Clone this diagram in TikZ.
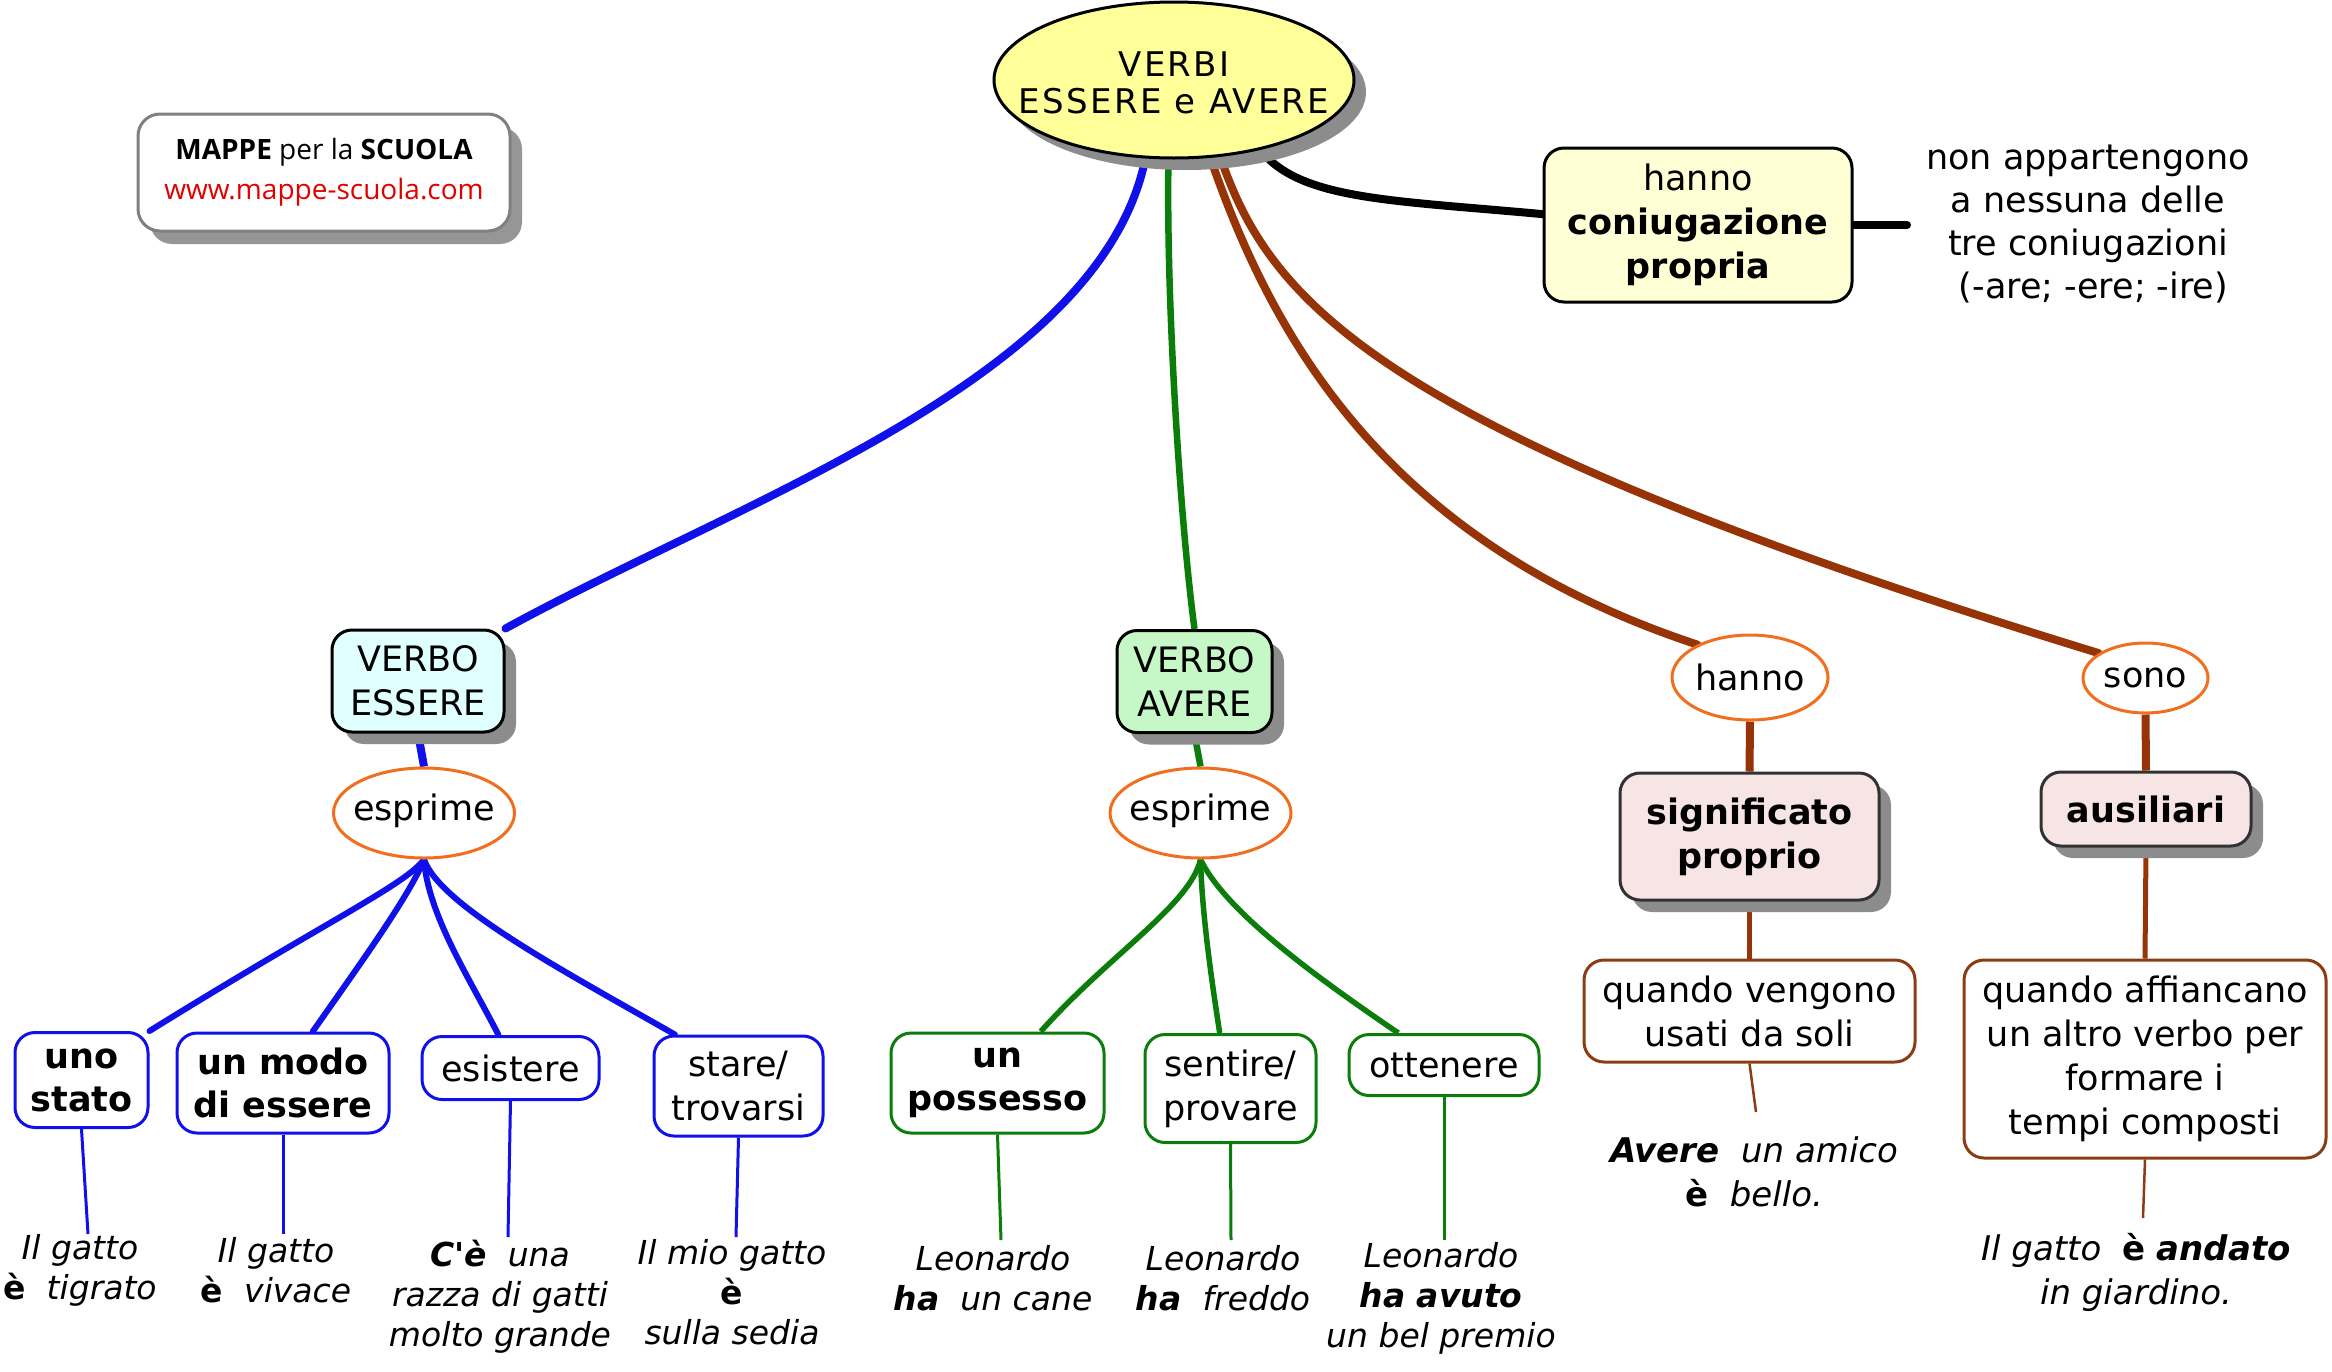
\documentclass[tikz,border=0pt]{standalone}
\usepackage{fontspec}
\setmainfont{DejaVu Sans}[Ligatures=TeXOff]
\newfontfamily\logofont{Open Sans}
\newfontfamily\titlefont{DejaVu Sans}[LetterSpace=7]
\usetikzlibrary{shapes.geometric,shadows}
\pgfdeclarelayer{bg}
\pgfsetlayers{bg,main}
\definecolor{blueC}{RGB}{16,16,235}
\definecolor{greenC}{RGB}{10,125,10}
\definecolor{brownC}{RGB}{150,52,8}
\definecolor{brownB}{RGB}{140,60,20}
\definecolor{orangeC}{RGB}{240,110,30}
\definecolor{titlefill}{RGB}{255,255,153}
\definecolor{hfill}{RGB}{255,255,214}
\definecolor{cyanfill}{RGB}{224,255,255}
\definecolor{greenfill}{RGB}{198,247,198}
\definecolor{pinkfill}{RGB}{247,228,228}
\definecolor{darkB}{RGB}{50,50,50}
\definecolor{shadowgray}{RGB}{140,140,140}
\definecolor{logoB}{RGB}{128,128,128}
\definecolor{logoS}{RGB}{150,150,150}
\definecolor{urlred}{RGB}{225,0,0}
\newcommand\BoldUp[1]{{\upshape\bfseries #1}}
\begin{document}
\begin{tikzpicture}[x=1pt,y=-1pt,
  base/.style={font=\fontsize{35}{44}\selectfont, align=center, inner sep=0pt},
  shad/.style={general shadow={fill=shadowgray, shadow xshift=12pt, shadow yshift=-12pt}},
  rbox/.style={base, rectangle, rounded corners=20pt, draw, line width=3pt, fill=white},
  ovalbox/.style={ellipse, draw=orangeC, line width=3pt, fill=white, inner sep=0pt},
  bluebox/.style={rbox, draw=blueC},
  greenbox/.style={rbox, draw=greenC},
  brownbox/.style={rbox, draw=brownB},
  example/.style={font=\fontsize{33}{40}\selectfont\itshape, align=center, inner sep=0pt},
  bigline/.style={line width=8pt, line cap=round},
  midline/.style={line width=6pt, line cap=round},
  thinline/.style={line width=3pt}
]
\useasboundingbox (0,0) rectangle (2332,1371);

% logo
\node[base, rectangle, rounded corners=22pt, draw=logoB, line width=3pt, fill=white,
  general shadow={fill=logoS, shadow xshift=12pt, shadow yshift=-13pt},
  minimum width=372pt, minimum height=117pt,
  font=\fontsize{28}{40}\selectfont\logofont] (logo) at (324,172.5)
  {{\bfseries MAPPE} per la {\bfseries SCUOLA}\\\textcolor{urlred}{www.mappe-scuola.com}};

% title
\node[ellipse, draw=black, line width=3pt, fill=titlefill, shad,
  minimum width=360pt, minimum height=156pt, inner sep=0pt] (title) at (1174,80) {};
\node[base, font=\fontsize{34}{37}\selectfont\titlefont] (titlet) at (1174,83) {VERBI\\ESSERE e AVERE};

% hanno coniugazione propria
\node[rbox, fill=hfill, draw=black, minimum width=308pt, minimum height=154pt] (hbox) at (1698,225)
  {hanno\\\textbf{coniugazione}\\\textbf{propria}};
\node[base, font=\fontsize{35}{43}\selectfont] (rtext) at (2088,224)
  {non appartengono\\a nessuna delle\\tre coniugazioni\\\ (-are; -ere; -ire)};
\coordinate (rt) at (1907,225);

% verbo essere
\node[rbox, fill=cyanfill, draw=black, shad, minimum width=172pt, minimum height=102pt] (essere) at (418,681) {VERBO\\ESSERE};
\node[ovalbox, minimum width=181pt, minimum height=90pt] (esp1) at (424,813) {};
\node[base] (esp1t) at (424,811) {esprime};
\node[bluebox, font=\fontsize{35}{43}\selectfont\bfseries, minimum width=133pt, minimum height=95pt] (unostato) at (81.5,1080) {uno\\stato};
\node[bluebox, font=\fontsize{35}{43}\selectfont\bfseries, minimum width=212pt, minimum height=100pt] (unmodo) at (283,1083) {un modo\\di essere};
\node[bluebox, minimum width=177pt, minimum height=63pt] (esistere) at (510.5,1068) {esistere};
\node[bluebox, minimum width=169pt, minimum height=100pt] (stare) at (738.5,1086) {stare/\\trovarsi};

% verbo avere
\node[rbox, fill=greenfill, draw=black, shad, minimum width=155pt, minimum height=102pt] (avere) at (1194.5,681.5) {VERBO\\AVERE};
\node[ovalbox, minimum width=181pt, minimum height=90pt] (esp2) at (1200.5,813) {};
\node[base] (esp2t) at (1200.5,811) {esprime};
\node[greenbox, font=\fontsize{35}{43}\selectfont\bfseries, minimum width=213pt, minimum height=100pt] (possesso) at (997.5,1083) {un\\possesso};
\node[greenbox, minimum width=171pt, minimum height=108pt] (sentire) at (1230.5,1088.5) {sentire/\\provare};
\node[greenbox, minimum width=190pt, minimum height=61pt] (ottenere) at (1444,1065) {ottenere};

% right branches
\node[ovalbox, minimum width=156pt, minimum height=85pt] (hannoE) at (1750,677.5) {};
\node[base] (hannoEt) at (1750,677.5) {hanno};
\node[ovalbox, minimum width=125pt, minimum height=70pt] (sono) at (2145.5,678) {};
\node[base] (sonot) at (2145.5,678) {sono};
\node[rbox, fill=pinkfill, draw=darkB, shad, font=\fontsize{35}{44}\selectfont\bfseries, minimum width=259pt, minimum height=127pt] (sig) at (1749.5,836.5) {significato\\proprio};
\node[rbox, fill=pinkfill, draw=darkB, shad, font=\fontsize{35}{44}\selectfont\bfseries, minimum width=210pt, minimum height=74pt] (aus) at (2146,809) {ausiliari};
\node[brownbox, minimum width=331pt, minimum height=102pt] (veng) at (1749.5,1011) {quando vengono\\usati da soli};
\node[brownbox, minimum width=362pt, minimum height=198pt] (affi) at (2145,1059) {quando affiancano\\un altro verbo per\\formare i\\tempi composti};

% examples
\node[example] (ex1) at (80,1270) {Il gatto\\\BoldUp{è}\ \ tigrato};
\node[example] (ex2) at (276,1270) {Il gatto\\\BoldUp{è}\ \ vivace};
\node[example] (ex3) at (500,1297) {\textbf{C'è}\ \ una\\razza di gatti\\molto grande};
\node[example] (ex4) at (732,1292) {Il mio gatto\\\BoldUp{è}\\sulla sedia};
\node[example] (ex5) at (993,1278) {Leonardo\\\textbf{ha}\ \ un cane};
\node[example] (ex6) at (1223,1278) {Leonardo\\\textbf{ha}\ \ freddo};
\node[example] (ex7) at (1441,1298) {Leonardo\\\textbf{ha avuto}\\un bel premio};
\node[example, font=\fontsize{34}{44}\selectfont\itshape] (ex8) at (1754,1172) {\textbf{Avere}\ \ un amico\\\BoldUp{è}\ \ bello.};
\node[example, font=\fontsize{34}{44}\selectfont\itshape] (ex9) at (2136,1272) {Il gatto\ \ \BoldUp{è} \textbf{andato}\\in giardino.};

\coordinate (t1) at (88,1234);
\coordinate (t2) at (283,1234);
\coordinate (t3) at (508,1237);
\coordinate (t4) at (736,1237);
\coordinate (t5) at (1001,1240);
\coordinate (t6) at (1231,1240);
\coordinate (t7) at (1444,1240);
\coordinate (t8) at (1756,1112);
\coordinate (t9) at (2143,1218);

\begin{pgfonlayer}{bg}
  \draw[blueC, bigline] (title.250) .. controls (1100,380) and (740,500) .. (essere.north east);
  \draw[greenC, line width=6.5pt] (title.266) .. controls (1166,300) and (1180,520) .. (avere.north);
  \draw[black, bigline] (title.321) .. controls (1300,200) and (1390,200) .. (hbox.176);
  \draw[brownC, bigline] (title.295) .. controls (1270,330) and (1380,540) .. (hannoE.148);
  \draw[brownC, bigline] (title.301) .. controls (1270,300) and (1370,430) .. (sono.152);
  \draw[black, bigline] (hbox.east) -- (rt);

  \draw[blueC, line width=8pt] (essere.south) -- (esp1.north);
  \draw[greenC, line width=6.5pt] (avere.south) -- (esp2.north);
  \draw[brownC, line width=8pt] (hannoE.south) -- (sig.north);
  \draw[brownC, line width=8pt] (sono.south) -- (aus.north);
  \draw[brownC, line width=5pt] (sig.south) -- (veng.north);
  \draw[brownC, line width=5pt] (aus.south) -- (affi.north);

  \draw[blueC, midline] (esp1.south) .. controls (405,885) and (330,919) .. (unostato.north east);
  \draw[blueC, midline] (esp1.south) .. controls (410,895) and (360,964) .. (unmodo.60);
  \draw[blueC, midline] (esp1.south) .. controls (428,915) and (470,979) .. (esistere.110);
  \draw[blueC, midline] (esp1.south) .. controls (440,905) and (560,969) .. (stare.141);

  \draw[greenC, line width=5.5pt] (esp2.south) .. controls (1190,905) and (1110,954) .. (possesso.50);
  \draw[greenC, line width=5.5pt] (esp2.south) .. controls (1202,915) and (1212,983) .. (sentire.101);
  \draw[greenC, line width=5.5pt] (esp2.south) .. controls (1225,910) and (1310,973) .. (ottenere.145);

  \draw[blueC, thinline] (unostato.south) -- (t1);
  \draw[blueC, thinline] (unmodo.south) -- (t2);
  \draw[blueC, thinline] (esistere.south) -- (t3);
  \draw[blueC, thinline] (stare.south) -- (t4);
  \draw[greenC, thinline] (possesso.south) -- (t5);
  \draw[greenC, thinline] (sentire.south) -- (t6);
  \draw[greenC, thinline] (ottenere.south) -- (t7);
  \draw[brownB, line width=2.5pt] (veng.south) -- (t8);
  \draw[brownB, line width=2.5pt] (affi.south) -- (t9);
\end{pgfonlayer}
\end{tikzpicture}
\end{document}
